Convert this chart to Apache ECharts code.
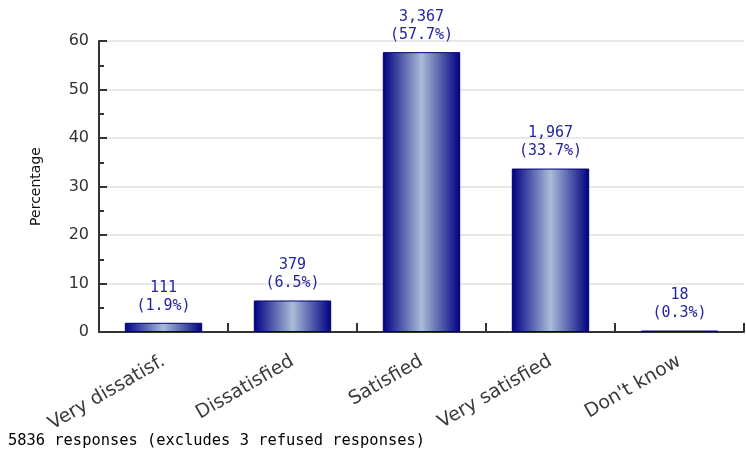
<!DOCTYPE html>
<html><head><meta charset="utf-8">
<script src="https://cdn.jsdelivr.net/npm/echarts@6/dist/echarts.min.js"></script>
<style>html,body{margin:0;padding:0;background:#fff}#c{width:746px;height:455px}</style>
</head><body><div id="c"></div>
<script>
const categories = ["Very dissatisf.", "Dissatisfied", "Satisfied", "Very satisfied", "Don't know"];
const percents = [1.9, 6.5, 57.7, 33.7, 0.3];
const counts = ["111", "379", "3,367", "1,967", "18"];
const yTicks = [0, 10, 20, 30, 40, 50, 60];
const footer = "5836 responses (excludes 3 refused responses)";

const chart = echarts.init(document.getElementById('c'), null, {renderer: 'canvas'});
const grad = new echarts.graphic.LinearGradient(0, 0, 1, 0, [
  {offset: 0, color: '#000080'},
  {offset: 0.5, color: '#a8bcd8'},
  {offset: 1, color: '#000080'}
]);
const yMin = yTicks[0], yMax = yTicks[yTicks.length - 1];
chart.setOption({
  animation: false,
  grid: {left: 99, right: 2, top: 41, bottom: 123, containLabel: false},
  xAxis: {
    type: 'category', data: categories,
    axisLine: {lineStyle: {color: '#333', width: 2}},
    axisTick: {show: true, inside: true, length: 9, lineStyle: {color: '#333', width: 2}},
    axisLabel: {rotate: 30, fontFamily: 'DejaVu Sans', fontSize: 19, color: '#3a3a3a', margin: 28, interval: 0}
  },
  yAxis: [{
    type: 'value', min: yMin, max: yMax, interval: 10,
    name: 'Percentage', nameLocation: 'middle', nameGap: 56,
    nameTextStyle: {fontFamily: 'DejaVu Sans', fontSize: 14, color: '#111'},
    axisLine: {show: true, lineStyle: {color: '#333', width: 2}},
    axisTick: {show: true, inside: true, length: 8, lineStyle: {color: '#333', width: 2}},
    splitLine: {show: true, lineStyle: {color: '#e0e0e0', width: 1.5}},
    axisLabel: {fontFamily: 'DejaVu Sans', fontSize: 16, color: '#333', margin: 10}
  }, {
    type: 'value', min: yMin, max: yMax, interval: 5, position: 'left',
    axisLine: {show: false},
    axisTick: {show: true, inside: true, length: 5, lineStyle: {color: '#333', width: 2}},
    splitLine: {show: false},
    axisLabel: {show: false}
  }],
  series: [{
    type: 'bar', data: percents, barWidth: '60%', yAxisIndex: 0,
    itemStyle: {color: grad, borderColor: '#000070', borderWidth: 1},
    label: {
      show: true, position: 'top', distance: 8,
      fontFamily: 'DejaVu Sans Mono', fontSize: 15, lineHeight: 18, color: '#2424a0',
      formatter: p => counts[p.dataIndex] + '\n(' + percents[p.dataIndex].toFixed(1) + '%)'
    }
  }],
  graphic: [{
    type: 'text', left: 8, top: 433,
    style: {text: footer, font: '15.4px "DejaVu Sans Mono"', fill: '#000'}
  }]
});
</script></body></html>
